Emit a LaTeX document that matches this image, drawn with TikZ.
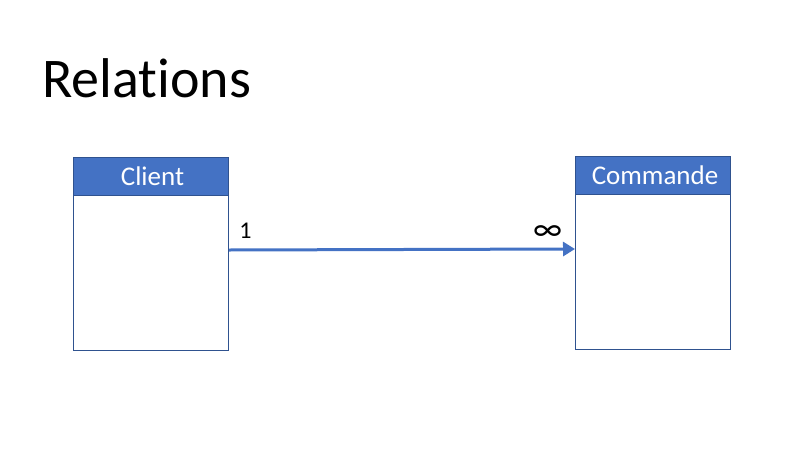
\documentclass[tikz,border=0pt]{standalone}
\usepackage{fontspec}
\setmainfont[Ligatures=NoCommon]{Carlito}
\usetikzlibrary{arrows.meta}
\definecolor{hdr}{HTML}{4472C4}
\definecolor{brd}{HTML}{2F528F}
\begin{document}
\begin{tikzpicture}[x=1pt,y=-1pt,
  tbox/.style={draw=brd,line width=1pt,fill=white,minimum width=155pt,minimum height=193pt,inner sep=0pt},
  thdr/.style={fill=hdr,draw=brd,line width=1pt,minimum width=155pt,minimum height=38pt,inner sep=0pt,text=white,font=\fontsize{27}{30}\selectfont},
  lbl/.style={font=\fontsize{24}{28}\selectfont,inner sep=0pt},
  rel/.style={draw=hdr,line width=3pt,-{Triangle[length=12pt,width=14pt]}}]
\useasboundingbox (0,0) rectangle (800,450);
\node[inner sep=0pt,anchor=base west,font=\fontsize{56}{60}\selectfont] (title) at (42,97) {Relations};
\node[tbox,anchor=north west] (client) at (73,157) {};
\node[thdr,anchor=north west] (clienth) at (73,157) {\hspace{3pt}Client};
\node[tbox,anchor=north west] (cmd) at (575,156) {};
\node[thdr,anchor=north west] (cmdh) at (575,156) {\hspace{4pt}Commande};
\coordinate (a) at (client.east |- 0,250);
\coordinate (b) at (cmd.west |- 0,249);
\draw[rel] (a) -- (b);
\node[lbl,anchor=base] (one) at (245.5,238) {1};
\node[lbl,font=\fontsize{34}{34}\selectfont,inner sep=0pt,anchor=base] (inf) at (547.5,240) {∞};
\end{tikzpicture}
\end{document}
